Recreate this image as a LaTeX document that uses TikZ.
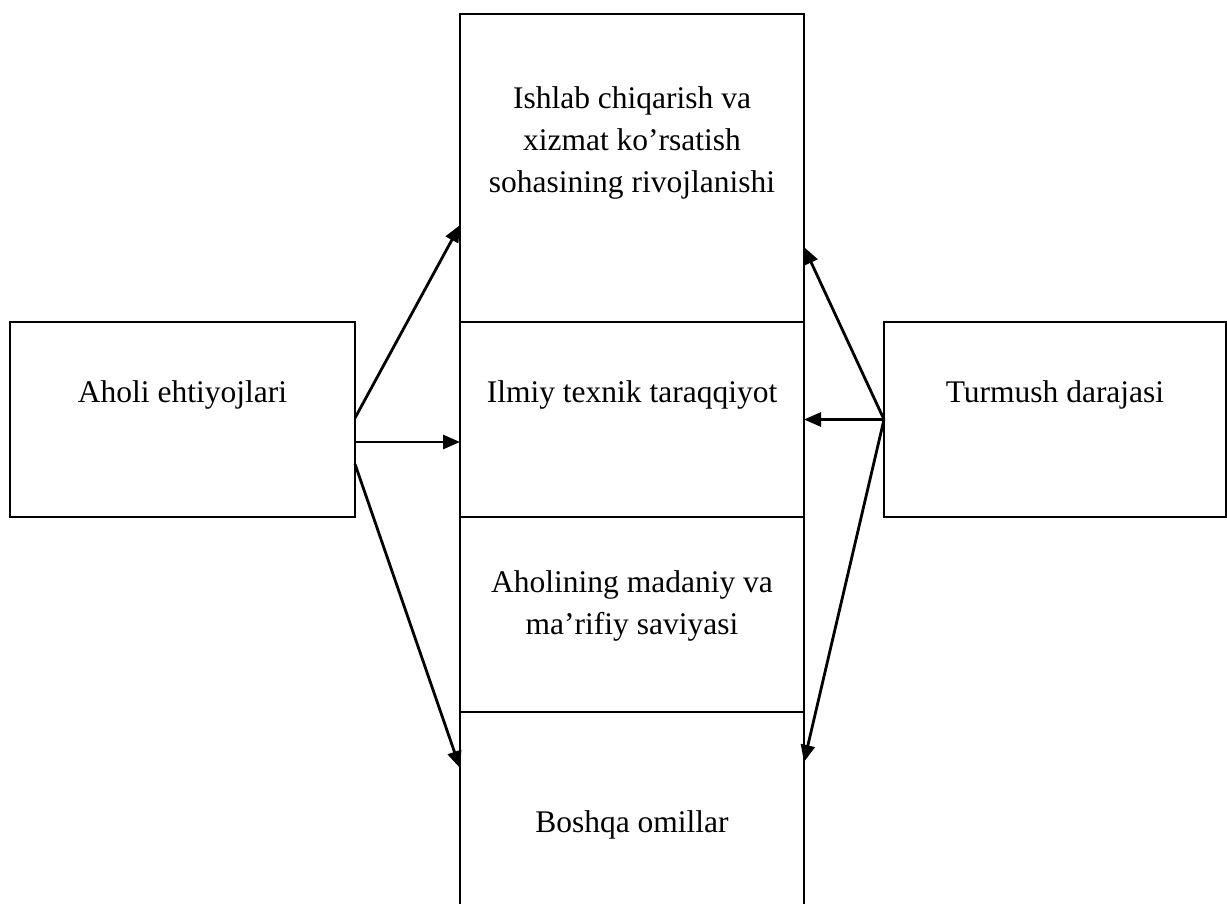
\documentclass[tikz,border=0pt]{standalone}
\usepackage{fontspec}
\setmainfont{Liberation Serif}
\usetikzlibrary{arrows.meta}
\begin{document}
\begin{tikzpicture}[x=1pt,y=-1pt,
  box/.style={draw=black, line width=2.2pt, rectangle, inner sep=0pt, outer sep=0pt},
  txt/.style={align=center, inner sep=0pt, font=\fontsize{31.5}{42}\selectfont},
  arr/.style={line width=2.8pt, -{Triangle[length=17pt,width=14pt]}}]
\useasboundingbox (0,0) rectangle (1227,904);
\clip (0,0) rectangle (1227,904);
\fill[white] (0,0) rectangle (1227,904);
% boxes
\node[box, minimum width=345pt, minimum height=195pt] (L) at (182.5,419.5) {};
\node[box, minimum width=344pt, minimum height=308pt] (B1) at (632,168) {};
\node[box, minimum width=344pt, minimum height=195pt] (B2) at (632,419.5) {};
\node[box, minimum width=344pt, minimum height=195pt] (B3) at (632,614.5) {};
\node[box, minimum width=344pt, minimum height=208pt] (B4) at (632,816) {};
\node[box, minimum width=342pt, minimum height=195pt] (R) at (1055,419.5) {};
% texts
\node[txt] (tL) at (182.5,395) {Aholi ehtiyojlari};
\node[txt] (t1) at (632,143) {Ishlab chiqarish va\\xizmat ko’rsatish\\sohasining rivojlanishi};
\node[txt] (t2) at (632,395) {Ilmiy texnik taraqqiyot};
\node[txt] (t3) at (632,606) {Aholining madaniy va\\ma’rifiy saviyasi};
\node[txt] (t4) at (632,825) {Boshqa omillar};
\node[txt] (tR) at (1055,395) {Turmush darajasi};
% arrows
\draw[arr] ([yshift=1.5pt]L.east) -- ([yshift=-57pt]B1.west);
\draw[arr] ([yshift=-22.5pt]L.east) -- ([yshift=-22.5pt]B2.west);
\draw[arr] ([yshift=-44.5pt]L.east) -- ([yshift=48pt]B4.west);
\draw[arr] (R.west) -- ([yshift=-79pt]B1.east);
\draw[arr] (R.west) -- (B2.east);
\draw[arr] (R.west) -- ([yshift=54pt]B4.east);
\end{tikzpicture}
\end{document}
